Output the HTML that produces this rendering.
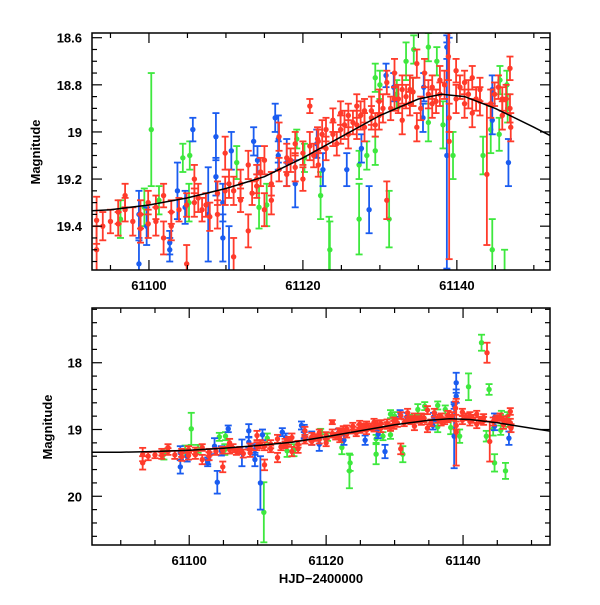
<!DOCTYPE html>
<html><head><meta charset="utf-8"><style>
body{margin:0;background:#fff;}
svg text{font-family:"Liberation Sans",sans-serif;font-weight:bold;font-size:13px;fill:#000;}
</style></head><body>
<svg id="chart" width="600" height="600" viewBox="0 0 600 600" xmlns="http://www.w3.org/2000/svg">
<defs>
<clipPath id="clipTop"><rect x="92" y="33" width="458" height="237"/></clipPath>
<clipPath id="clipBot"><rect x="92" y="308" width="458" height="237"/></clipPath>
</defs>
<g id="top"></g>
<g id="bot"></g>
<text transform="translate(40,152) rotate(-90)" text-anchor="middle">Magnitude</text>
<text transform="translate(52,427) rotate(-90)" text-anchor="middle">Magnitude</text>
<text x="321" y="583" text-anchor="middle">HJD−2400000</text>
</svg>
<script>
const redT=[61093.2,61093.2,61094,61095,61096,61096,61096.9,61096.9,61097.9,61098.9,61098.9,61099.9,61099.9,61100.9,61100.9,61101.9,61101.9,61102.9,61102.9,61103.9,61104.9,61104.9,61105.9,61105.9,61106.9,61107.9,61108.9,61108.9,61109.9,61109.9,61111,61111,61111.9,61111.9,61112.9,61112.9,61114,61114,61115,61115,61115.9,61115.9,61116.9,61116.9,61117.9,61117.9,61119,61119,61120,61120,61120.9,61120.9,61121.9,61122,61122,61123,61123,61123.9,61123.9,61124.9,61124.9,61125.9,61125.9,61127,61127,61128,61128,61128.9,61128.9,61129.9,61129.9,61130.9,61130.9,61131.9,61131.9,61132.9,61132.9,61133.9,61133.9,61134.8,61134.8,61135.8,61136.8,61136.8,61137.8,61137.8,61138.9,61139,61139,61139.9,61139.9,61141,61141,61142,61142,61143,61143,61143.9,61143.5,61144.9,61145.9,61145.9,61146.9,61146.9,61147,
61106.4,61107.4,61110.4,61113.4,61114.5,61118.4,61121.4,61122.5,61124.4,61125.4,61126.5,61127.5,61129.4,61130.4,61131.4,61132.4,61133.4,61134.3,61135.3,61136.3,61137.3,61138.4,61140.4,61141.5,61142.5,61144.4,61145.4,61146.4];
const redM=[19.375,19.50,19.40,19.38,19.34,19.39,19.33,19.27,19.38,19.35,19.41,19.30,19.39,19.32,19.38,19.27,19.45,19.34,19.40,19.33,19.56,19.31,19.20,19.30,19.33,19.36,19.26,19.35,19.09,19.25,19.53,19.25,19.29,19.22,19.14,19.42,19.20,19.23,19.12,19.33,19.22,19.29,19.02,19.16,19.11,19.18,19.05,19.15,19.09,19.20,18.89,19.06,19.03,19.04,19.14,18.99,19.07,18.95,19.01,18.92,18.99,18.93,19.01,18.89,18.97,18.91,18.98,18.91,18.94,18.87,18.93,18.79,19.29,18.75,18.86,18.82,18.95,18.88,18.82,18.71,18.98,18.75,18.81,18.88,18.78,18.84,18.68,19.04,18.94,18.74,18.86,18.79,18.88,18.77,18.92,18.82,18.87,19.18,17.85,18.84,18.86,18.93,18.73,18.90,18.98,
19.28,19.31,19.22,19.26,19.17,19.12,19.10,19.01,19.05,18.97,18.96,18.93,18.97,18.90,18.90,18.86,18.85,18.83,18.90,18.84,18.87,18.80,18.81,18.84,18.86,18.88,18.81,18.86];
const redE=[0.1,0.1,0.06,0.05,0.05,0.05,0.05,0.05,0.06,0.06,0.06,0.05,0.06,0.05,0.06,0.05,0.07,0.05,0.06,0.05,0.08,0.05,0.06,0.06,0.05,0.06,0.05,0.06,0.07,0.06,0.08,0.06,0.05,0.06,0.06,0.07,0.06,0.05,0.06,0.07,0.05,0.06,0.06,0.05,0.06,0.05,0.05,0.06,0.05,0.05,0.03,0.06,0.05,0.05,0.05,0.05,0.05,0.05,0.05,0.05,0.06,0.05,0.06,0.05,0.06,0.05,0.06,0.06,0.05,0.05,0.06,0.05,0.08,0.06,0.05,0.06,0.06,0.05,0.06,0.06,0.06,0.06,0.05,0.06,0.06,0.05,0.1,0.5,0.06,0.05,0.06,0.05,0.06,0.05,0.06,0.05,0.06,0.3,0.15,0.05,0.05,0.06,0.05,0.06,0.06,
0.06,0.05,0.06,0.05,0.06,0.05,0.05,0.06,0.05,0.06,0.05,0.06,0.05,0.06,0.05,0.06,0.05,0.06,0.05,0.06,0.05,0.06,0.05,0.06,0.05,0.06,0.05,0.06];
const greenT=[61100.3,61104.4,61105.3,61096.3,61099.4,61101.3,61105.2,61111.4,61114.3,61115.3,61119.2,61120.2,61122.3,61123.5,61127.3,61127.3,61128.3,61129.4,61129.4,61130,61131.2,61132.2,61133.4,61134.3,61134.4,61136.3,61136.3,61137.4,61138.2,61139.5,61140.8,61143.4,61144.4,61144.6,61145.5,61145.6,61146.5,61146.6,61142.7,61143.8,61146.2,61123.4,61110.9];
const greenM=[18.99,19.11,19.10,19.37,19.32,19.29,19.30,19.13,19.32,19.31,19.03,19.11,19.27,19.50,19.37,19.14,19.10,19.08,18.77,18.80,19.37,18.84,18.70,18.83,18.65,18.96,18.64,18.70,18.97,19.10,18.36,19.10,18.99,19.50,19.01,18.78,18.80,18.90,17.70,18.40,19.62,19.62,20.24];
const greenE=[0.24,0.06,0.06,0.08,0.08,0.06,0.08,0.07,0.09,0.09,0.04,0.06,0.10,0.12,0.15,0.06,0.06,0.06,0.06,0.06,0.12,0.06,0.08,0.06,0.06,0.08,0.06,0.06,0.10,0.10,0.20,0.08,0.10,0.13,0.07,0.06,0.06,0.06,0.12,0.08,0.12,0.26,0.45];
const blueT=[61098.7,61098.7,61099.7,61102.7,61102.7,61103.7,61104.7,61105.7,61107.7,61108.7,61108.7,61109.6,61109.6,61110.7,61113.6,61114.1,61116.8,61116.8,61117.9,61119,61121.8,61122.6,61125.7,61127.6,61128.6,61130.8,61131.8,61135.6,61135.7,61138.7,61138.7,61144.6,61144.6,61146.7,61139,61139,61104.1,61110.4,61116.4];
const blueM=[19.56,19.35,19.40,19.47,19.50,19.25,19.32,18.99,19.35,19.02,19.19,19.45,19.30,19.08,19.04,19.12,19.03,19.10,19.13,19.22,19.05,19.16,19.16,19.07,19.33,18.76,18.81,18.94,18.81,18.64,19.10,18.82,18.95,19.13,18.30,18.50,19.79,19.80,18.94];
const blueE=[0.10,0.10,0.08,0.05,0.05,0.12,0.07,0.05,0.20,0.10,0.08,0.10,0.08,0.08,0.06,0.06,0.10,0.06,0.10,0.10,0.06,0.07,0.07,0.06,0.10,0.05,0.06,0.06,0.06,0.05,0.48,0.06,0.06,0.10,0.15,0.10,0.17,0.40,0.06];
const curveT=[61085,61090,61095,61100,61105,61110,61115,61120,61125,61130,61135,61138,61141,61145,61150,61153];
const curveM=[19.34,19.34,19.33,19.31,19.28,19.24,19.19,19.11,19.02,18.93,18.86,18.84,18.85,18.90,18.98,19.03];
const xTicks=[61100,61120,61140];
const topYTicks=["18.6","18.8","19","19.2","19.4"];
const botYTicks=["18","19","20"];

const NS="http://www.w3.org/2000/svg";
function mk(tag,attrs,parent){const e=document.createElementNS(NS,tag);for(const k in attrs)e.setAttribute(k,attrs[k]);parent.appendChild(e);return e;}

const panels=[
 {g:document.getElementById('top'),clip:'url(#clipTop)',y0:33,y1:270,t0:61092.6,t1:61152.1,m0:18.58,m1:19.586,minorX:5,majorY:0.2,minorY:0.05,yt:topYTicks,nm:'top'},
 {g:document.getElementById('bot'),clip:'url(#clipBot)',y0:308,y1:545,t0:61085.8,t1:61152.7,m0:17.18,m1:20.73,minorX:5,majorY:1,minorY:0.2,yt:botYTicks,nm:'bottom'}
];
const X0=92,X1=550;
panels.forEach(p=>{
 const xs=t=>X0+(t-p.t0)/(p.t1-p.t0)*(X1-X0);
 const ys=m=>p.y0+(m-p.m0)/(p.m1-p.m0)*(p.y1-p.y0);
 const data=mk('g',{'clip-path':p.clip},p.g);
 
 
 const series=[['red',redT,redM,redE,'#ff3b2b'],['blue',blueT,blueM,blueE,'#1a5cf0'],['green',greenT,greenM,greenE,'#3ee83e']];
 [series[2],series[1],series[0]].forEach(s=>{
  const sg=mk('g',{},data);
  
  
  for(let i=0;i<s[1].length;i++){
   const x=xs(s[1][i]),y=ys(s[2][i]),ya=ys(s[2][i]-s[3][i]),yb=ys(s[2][i]+s[3][i]);
   const pt=mk('g',{stroke:s[4],'stroke-width':1.8,fill:s[4]},sg);
   
   
   mk('line',{x1:x,x2:x,y1:ya,y2:yb},pt);
   mk('line',{x1:x-3.5,x2:x+3.5,y1:ya,y2:ya},pt);
   mk('line',{x1:x-3.5,x2:x+3.5,y1:yb,y2:yb},pt);
   mk('circle',{cx:x,cy:y,r:2.7,stroke:'none'},pt);
  }
 });
 let d='';
 curveT.forEach((t,i)=>{d+=(i?'L':'M')+xs(t).toFixed(1)+','+ys(curveM[i]).toFixed(1);});
 const c=mk('path',{d:d,fill:'none',stroke:'#000','stroke-width':1.5},data);
 
 
 const fr=mk('rect',{x:X0,y:p.y0,width:X1-X0,height:p.y1-p.y0,fill:'none',stroke:'#000','stroke-width':1.5},p.g);
 
 
 const tk=mk('g',{stroke:'#000','stroke-width':1.2},p.g);
 
 
 for(let t=Math.ceil(p.t0/5)*5;t<=p.t1;t+=5){
  const L=(t%20===0)?10:5,x=xs(t);
  mk('line',{x1:x,x2:x,y1:p.y1,y2:p.y1-L},tk);
  mk('line',{x1:x,x2:x,y1:p.y0,y2:p.y0+L},tk);
 }
 const nMin=Math.round(p.majorY/p.minorY);
 for(let k=Math.ceil(p.m0/p.minorY-1e-6);k*p.minorY<=p.m1+1e-9;k++){
  const m=k*p.minorY,y=ys(m),L=(k%nMin===0)?10:5;
  mk('line',{x1:X0,x2:X0+L,y1:y,y2:y},tk);
  mk('line',{x1:X1,x2:X1-L,y1:y,y2:y},tk);
 }
 xTicks.forEach(t=>{
  const tx=mk('text',{x:xs(t),y:p.y1+20,'text-anchor':'middle'},p.g);
  tx.textContent=t;
  
  
 });
 p.yt.forEach(s=>{
  const ty=mk('text',{x:X0-10,y:ys(parseFloat(s))+5,'text-anchor':'end'},p.g);
  ty.textContent=s;
  
  
 });
});
</script>
</body></html>
